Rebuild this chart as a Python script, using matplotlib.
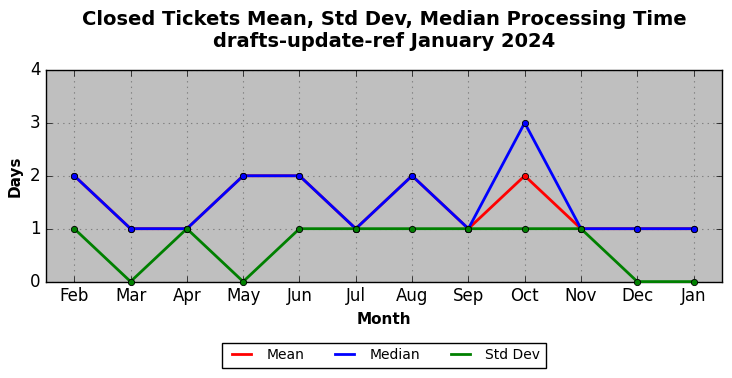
import matplotlib
matplotlib.use('Agg')
import matplotlib.pyplot as plt
from matplotlib.lines import Line2D

# Data
months = ['Feb', 'Mar', 'Apr', 'May', 'Jun', 'Jul', 'Aug', 'Sep', 'Oct', 'Nov', 'Dec', 'Jan']
mean_days = [2, 1, 1, 2, 2, 1, 2, 1, 2, 1, 1, 1]
median_days = [2, 1, 1, 2, 2, 1, 2, 1, 3, 1, 1, 1]
std_days = [1, 0, 1, 0, 1, 1, 1, 1, 1, 1, 0, 0]

plt.style.use('classic')

fig, ax = plt.subplots(figsize=(7.32, 3.78), dpi=100)
fig.subplots_adjust(left=0.063, right=0.986, top=0.815, bottom=0.255)
ax.set_facecolor('#bfbfbf')

x = list(range(len(months)))
series = [(mean_days, 'red', 'Mean'), (median_days, 'blue', 'Median'), (std_days, 'green', 'Std Dev')]
for vals, col, lab in series:
    ax.plot(x, vals, color=col, linewidth=2, marker='o', markersize=4.5,
            markerfacecolor=col, markeredgecolor='black', markeredgewidth=0.6,
            clip_on=False, zorder=3)

ax.set_xlim(-0.5, len(months) - 0.5)
ax.set_ylim(0, 4)
ax.set_xticks(x)
ax.set_xticklabels(months)
ax.set_yticks([0, 1, 2, 3, 4])
ax.grid(True, color='gray', linestyle=':', linewidth=0.8)
ax.set_axisbelow(True)

ax.set_xlabel('Month', fontsize=11, fontweight='bold')
ax.set_ylabel('Days', fontsize=11, fontweight='bold')
ax.set_title('Closed Tickets Mean, Std Dev, Median Processing Time\ndrafts-update-ref January 2024',
             fontsize=14, fontweight='bold', y=1.075)

handles = [Line2D([0], [0], color=c, linewidth=2) for _, c, _ in series]
labels = [l for _, _, l in series]
ax.legend(handles, labels, loc='upper center', bbox_to_anchor=(0.5, -0.255),
          ncol=3, fontsize=10, frameon=True, fancybox=False, handlelength=2,
          columnspacing=1.9, borderpad=0.4)

fig.savefig('out.png', dpi=100)
